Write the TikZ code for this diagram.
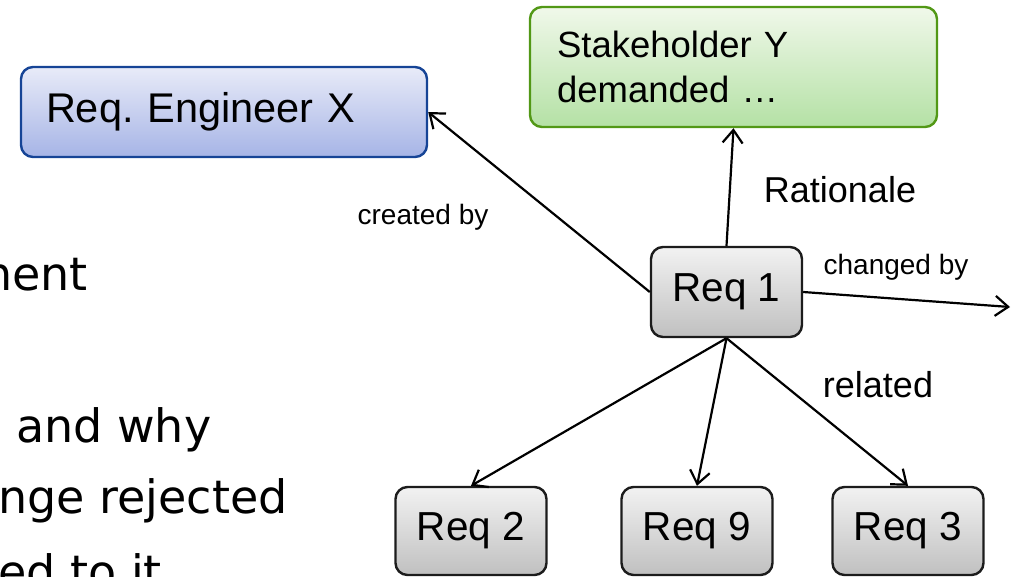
\documentclass[tikz,border=0pt]{standalone}
\usepackage{fontspec}
\setmainfont{Liberation Sans}
\newfontfamily\slidefont{DejaVu Sans}
\usetikzlibrary{arrows.meta}
\frenchspacing

\definecolor{engdraw}{RGB}{22,68,150}
\definecolor{engtop}{RGB}{232,235,248}
\definecolor{engbot}{RGB}{166,180,230}
\definecolor{stkdraw}{RGB}{82,152,22}
\definecolor{stktop}{RGB}{240,248,234}
\definecolor{stkbot}{RGB}{180,225,165}
\definecolor{reqdraw}{RGB}{28,28,28}
\definecolor{reqtop}{RGB}{242,242,242}
\definecolor{reqbot}{RGB}{192,192,192}

\tikzset{
  box/.style={rectangle, rounded corners=12pt, line width=2.4pt, inner ysep=0pt},
  engbox/.style={box, draw=engdraw, top color=engtop, bottom color=engbot,
    minimum width=406pt, minimum height=90pt, inner xsep=25pt,
    text width=356pt, align=left, font=\fontsize{41.5}{46}\selectfont},
  stkbox/.style={box, draw=stkdraw, top color=stktop, bottom color=stkbot,
    minimum width=407pt, minimum height=120pt, inner xsep=27pt,
    text width=353pt, align=left, font=\fontsize{36.5}{45}\selectfont},
  reqbox/.style={box, draw=reqdraw, top color=reqtop, bottom color=reqbot,
    minimum width=151pt, minimum height=90pt, font=\fontsize{40.5}{44}\selectfont},
  link/.style={line width=2.2pt, -{Straight Barb[length=13pt,width=20pt,line width=2.2pt]}},
  smalllabel/.style={font=\fontsize{28}{30}\selectfont, inner sep=0pt},
  biglabel/.style={font=\fontsize{36}{40}\selectfont, inner sep=0pt},
  slidetext/.style={font=\slidefont\fontsize{46}{50}\selectfont, inner sep=0pt}
}

\begin{document}
\begin{tikzpicture}[x=1pt,y=-1pt]
  \useasboundingbox (0,0) rectangle (1014,576);
  \clip (0,0) rectangle (1014,576);

  % bullet text of the slide, partly hidden at the left edge
  \node[slidetext, anchor=base east] (t1) at (88,290) {nent};
  \node[slidetext, anchor=base west] (t2) at (16,442) {and why};
  \node[slidetext, anchor=base west] (t3) at (-2,513) {nge rejected};
  \node[slidetext, anchor=base west] (t4) at (-2,588) {ed to it};

  % nodes
  \node[engbox] (eng) at (224,112) {Req. Engineer X};
  \node[stkbox] (stk) at (733.5,67) {Stakeholder Y\\demanded \dots};
  \node[reqbox] (r1) at (726.5,292) {Req 1};
  \node[reqbox, minimum height=88pt] (r2) at (471,531) {Req 2};
  \node[reqbox, minimum height=88pt] (r9) at (697,531) {Req 9};
  \node[reqbox, minimum height=88pt] (r3) at (908,531) {Req 3};
  \coordinate (chg) at (1010,307);

  % connectors
  \draw[link] (r1.west) -- (eng.east);
  \draw[link] (r1.north) -- (stk.south);
  \draw[link] (r1.east) -- (chg);
  \draw[link] (r1.south) -- (r2.north);
  \draw[link] (r1.south) -- (r9.north);
  \draw[link] (r1.south) -- (r3.north);

  % connector labels
  \node[smalllabel] (lcreated) at (423,217) {created by};
  \node[biglabel] (lrat) at (840,190) {Rationale};
  \node[smalllabel] (lchanged) at (896,267) {changed by};
  \node[biglabel] (lrel) at (878,385) {related};
\end{tikzpicture}
\end{document}
